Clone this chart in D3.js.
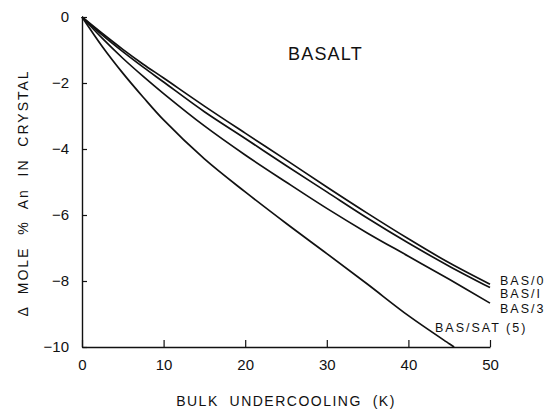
<!DOCTYPE html>
<html>
<head>
<meta charset="utf-8">
<script src="https://cdn.jsdelivr.net/npm/d3@7"></script>
<style>
  body { margin: 0; background: #fff; }
  svg { display: block; }
  text { font-family: "Liberation Sans", Arial, sans-serif; fill: #111; }
</style>
</head>
<body>
<svg id="chart" width="553" height="410"></svg>
<script>
// undercooling (K)
const undercooling = [0, 2.5, 5, 7.5, 10, 15, 20, 25, 30, 35, 40, 45, 50];
// change in mole % An
const bas0 = [0, -0.5, -0.98, -1.43, -1.85, -2.7, -3.52, -4.33, -5.15, -5.95, -6.72, -7.45, -8.1];
const bas1 = [0, -0.55, -1.05, -1.52, -1.97, -2.87, -3.68, -4.5, -5.3, -6.1, -6.85, -7.55, -8.2];
const bas3 = [0, -0.65, -1.25, -1.8, -2.32, -3.3, -4.18, -5.0, -5.8, -6.55, -7.25, -7.95, -8.67];
const basSatX = [0, 2.5, 5, 7.5, 10, 15, 20, 25, 30, 35, 40, 45, 45.6];
const basSat = [0, -0.9, -1.7, -2.43, -3.12, -4.3, -5.3, -6.25, -7.17, -8.1, -9.05, -9.9, -10];

const seriesNames = ["BAS/0", "BAS/I", "BAS/3", "BAS/SAT (5)"];
const xTicks = [0, 10, 20, 30, 40, 50];
const yTicks = [0, -2, -4, -6, -8, -10];

const svg = d3.select("#chart");
const margin = { left: 82, right: 63, top: 17, bottom: 63 };
const width = +svg.attr("width");
const height = +svg.attr("height");

const x = d3.scaleLinear().domain([0, 50]).range([margin.left, width - margin.right]);
const y = d3.scaleLinear().domain([-10, 0]).range([height - margin.bottom, margin.top]);

// axes - ticks point inward like the original
const xAxis = svg.append("g")
    .attr("transform", `translate(0, ${y(-10)})`)
    .call(d3.axisBottom(x).tickValues(xTicks).tickSize(-7).tickSizeOuter(0).tickPadding(12));
const yAxis = svg.append("g")
    .attr("transform", `translate(${x(0)}, 0)`)
    .call(d3.axisLeft(y).tickValues(yTicks).tickSize(-5).tickSizeOuter(0).tickPadding(13));

[xAxis, yAxis].forEach((ax) => {
    ax.select(".domain").attr("stroke", "#111").attr("stroke-width", 1.4);
    ax.selectAll(".tick line").attr("stroke", "#111").attr("stroke-width", 1.2);
    ax.selectAll(".tick text")
        .attr("font-size", 15)
        .attr("font-family", "Liberation Sans, Arial, sans-serif")
        .attr("fill", "#111");
});

const line = d3.line()
    .x((d) => x(d[0]))
    .y((d) => y(d[1]))
    .curve(d3.curveCatmullRom);

const series = [
    { name: seriesNames[0], xs: undercooling, ys: bas0 },
    { name: seriesNames[1], xs: undercooling, ys: bas1 },
    { name: seriesNames[2], xs: undercooling, ys: bas3 },
    { name: seriesNames[3], xs: basSatX, ys: basSat },
];

svg.selectAll(".curve")
    .data(series)
    .enter()
    .append("path")
    .attr("class", "curve")
    .attr("fill", "none")
    .attr("stroke", "#111")
    .attr("stroke-width", 1.7)
    .attr("d", (d) => line(d.xs.map((v, i) => [v, d.ys[i]])));

// curve labels on the right
const labelPos = [
    { x: 500, y: 285 },
    { x: 500, y: 298 },
    { x: 500, y: 313 },
    { x: 435, y: 332 },
];
svg.selectAll(".lbl")
    .data(series)
    .enter()
    .append("text")
    .attr("class", "lbl")
    .attr("x", (d, i) => labelPos[i].x)
    .attr("y", (d, i) => labelPos[i].y)
    .attr("font-size", 12.5)
    .attr("letter-spacing", 2)
    .text((d) => d.name);

svg.append("text")
    .attr("x", 288)
    .attr("y", 60)
    .attr("font-size", 18)
    .attr("letter-spacing", 1.2)
    .text("BASALT");

svg.append("text")
    .attr("x", (x(0) + x(50)) / 2)
    .attr("y", 406)
    .attr("text-anchor", "middle")
    .attr("font-size", 14)
    .attr("letter-spacing", 1.5)
    .attr("xml:space", "preserve")
    .text("BULK  UNDERCOOLING  (K)");

svg.append("text")
    .attr("transform", "translate(28, 193) rotate(-90)")
    .attr("text-anchor", "middle")
    .attr("font-size", 14)
    .attr("letter-spacing", 2)
    .attr("xml:space", "preserve")
    .text("\u0394  MOLE  %  An  IN  CRYSTAL");
</script>
</body>
</html>
